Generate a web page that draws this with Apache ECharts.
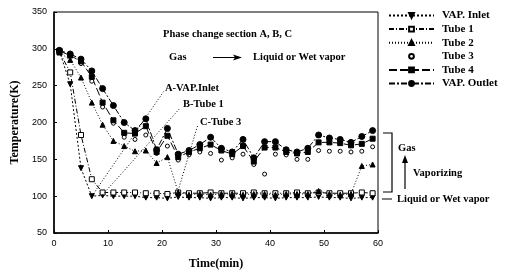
<!DOCTYPE html>
<html>
<head>
<meta charset="utf-8">
<script src="https://cdn.jsdelivr.net/npm/echarts@6/dist/echarts.min.js"></script>
<style>
  html, body { margin: 0; padding: 0; background: #fff; }
  #main { width: 513px; height: 275px; }
</style>
</head>
<body>
<div id="main"></div>
<script>
// time points (min)
const timeMin = [1, 3, 5, 7, 9, 11, 13, 15, 17, 19, 21, 23, 25, 27, 29, 31, 33, 35, 37, 39, 41, 43, 45, 47, 49, 51, 53, 55, 57, 59];

// temperatures (K)
const vapInlet = [297, 252, 138, 100, 101, 100, 100, 100, 98, 98, 97, 99, 98, 98, 97, 98, 98, 97, 98, 98, 97, 98, 98, 98, 99, 98, 98, 97, 98, 98];
const tube1 = [296, 268, 183, 123, 105, 105, 105, 105, 104, 104, 103, 105, 104, 104, 105, 104, 104, 104, 105, 104, 104, 104, 105, 104, 105, 104, 104, 104, 105, 104];
const tube2 = [295, 285, 261, 227, 197, 175, 168, 161, 162, 145, 153, 105, 102, 103, 102, 103, 103, 102, 103, 103, 102, 103, 103, 103, 107, 103, 102, 103, 141, 143];
const tube3 = [296, 290, 280, 256, 221, 199, 180, 177, 183, 158, 168, 149, 156, 160, 158, 149, 152, 157, 143, 130, 157, 156, 150, 150, 162, 161, 161, 160, 161, 167];
const tube4 = [297, 291, 283, 262, 227, 203, 186, 185, 195, 160, 182, 153, 160, 165, 170, 162, 157, 168, 147, 166, 166, 160, 158, 160, 173, 173, 172, 169, 171, 178];
const vapOutlet = [298, 293, 286, 270, 246, 223, 200, 189, 205, 163, 192, 157, 162, 170, 180, 165, 160, 177, 152, 174, 174, 163, 160, 165, 183, 179, 177, 173, 181, 189];

// axis ranges
const yTicks = { min: 50, max: 350, step: 50 };
const xTicks = { min: 0, max: 60, step: 10 };

// leader lines of "A-VAP.Inlet", "B-Tube 1", "C-Tube 3" (data units)
const leaderA = [[7, 100], [20.3, 242]];
const leaderB = [[9, 102], [23.4, 220]];
const leaderC = [[23, 108], [26.6, 196]];

const serif = '"Liberation Serif", "DejaVu Serif", serif';
const sans = '"Liberation Sans", Arial, sans-serif';

function pairs(vals) {
    return timeMin.map((t, i) => [t, vals[i]]);
}

function lineSeries(name, vals, symbol, size, fill, dash, extra) {
    return Object.assign({
        name: name,
        type: 'line',
        data: pairs(vals),
        symbol: symbol,
        symbolSize: size,
        showAllSymbol: true,
        z: 3,
        itemStyle: { color: fill, borderColor: '#000', borderWidth: 1 },
        lineStyle: { color: '#000', width: 1, type: dash },
        emphasis: { disabled: true },
        animation: false
    }, extra || {});
}

const chart = echarts.init(document.getElementById('main'));

const option = {
    animation: false,
    grid: {
        left: 54, right: 135, top: 12, bottom: 38,
        show: true, borderColor: '#000', borderWidth: 1
    },
    legend: {
        orient: 'vertical',
        left: 383,
        top: 5,
        itemWidth: 45,
        itemHeight: 6,
        itemGap: 2.6,
        textStyle: { fontFamily: serif, fontWeight: 'bold', fontSize: 11, color: '#000', padding: [0, 0, 0, 3] },
        data: ['VAP. Inlet', 'Tube 1', 'Tube 2', 'Tube 3', 'Tube 4', 'VAP. Outlet']
    },
    xAxis: {
        type: 'value',
        min: xTicks.min, max: xTicks.max, interval: xTicks.step,
        name: 'Time(min)',
        nameLocation: 'middle',
        nameGap: 25,
        nameTextStyle: { fontFamily: serif, fontWeight: 'bold', fontSize: 12, color: '#000' },
        axisLine: { lineStyle: { color: '#000', width: 1.5 } },
        axisTick: { inside: true, length: 3, lineStyle: { color: '#000' } },
        axisLabel: { fontFamily: sans, fontSize: 9, color: '#000', margin: 6 },
        splitLine: { show: false }
    },
    yAxis: {
        type: 'value',
        min: yTicks.min, max: yTicks.max, interval: yTicks.step,
        name: 'Temperature(K)',
        nameLocation: 'middle',
        nameGap: 28,
        nameTextStyle: { fontFamily: serif, fontWeight: 'bold', fontSize: 12, color: '#000' },
        axisLine: { show: true, lineStyle: { color: '#000', width: 1.5 } },
        axisTick: { show: true, inside: true, length: 3, lineStyle: { color: '#000' } },
        axisLabel: { fontFamily: sans, fontSize: 9, color: '#000', margin: 7 },
        splitLine: { show: false }
    },
    series: [
        lineSeries('VAP. Inlet', vapInlet, 'triangle', 5, '#000', [2, 2], { symbolRotate: 180 }),
        lineSeries('Tube 1', tube1, 'rect', 5, '#fff', [5, 2, 1, 2]),
        lineSeries('Tube 2', tube2, 'triangle', 5, '#000', [1, 2]),
        lineSeries('Tube 3', tube3, 'circle', 4, '#fff', 'solid', { lineStyle: { width: 0, opacity: 0 } }),
        lineSeries('Tube 4', tube4, 'rect', 5, '#000', [8, 3]),
        lineSeries('VAP. Outlet', vapOutlet, 'circle', 6, '#000', [6, 2, 2, 2]),
        {
            name: 'leaders',
            type: 'line',
            data: [],
            silent: true,
            markLine: {
                silent: true,
                symbol: ['none', 'none'],
                label: { show: false },
                lineStyle: { color: '#000', width: 1, type: [1, 2] },
                data: [leaderA, leaderB, leaderC].map(l => [{ coord: l[0] }, { coord: l[1] }])
            }
        }
    ],
    graphic: [
        { type: 'text', left: 163, top: 29, style: { text: 'Phase change section A, B, C', font: 'bold 10.5px ' + serif, fill: '#000' } },
        { type: 'text', left: 169, top: 52, style: { text: 'Gas', font: 'bold 10.5px ' + serif, fill: '#000' } },
        { type: 'line', shape: { x1: 213, y1: 57.5, x2: 238, y2: 57.5 }, style: { stroke: '#000', lineWidth: 1 } },
        { type: 'polygon', shape: { points: [[242, 57.5], [233, 54.5], [235, 57.5], [233, 60.5]] }, style: { fill: '#000' } },
        { type: 'text', left: 253, top: 52, style: { text: 'Liquid or Wet vapor', font: 'bold 10.5px ' + serif, fill: '#000' } },
        { type: 'text', left: 165, top: 83, style: { text: 'A-VAP.Inlet', font: 'bold 10.5px ' + serif, fill: '#000' } },
        { type: 'text', left: 183, top: 99, style: { text: 'B-Tube 1', font: 'bold 10.5px ' + serif, fill: '#000' } },
        { type: 'text', left: 200, top: 117, style: { text: 'C-Tube 3', font: 'bold 10.5px ' + serif, fill: '#000' } },
        // right side bracket and phase notes
        { type: 'polyline', shape: { points: [[383, 133], [392, 133], [392, 192], [383, 192]] }, style: { stroke: '#000', lineWidth: 1.2, fill: null } },
        { type: 'text', left: 398, top: 143, style: { text: 'Gas', font: 'bold 10.5px ' + serif, fill: '#000' } },
        { type: 'line', shape: { x1: 405, y1: 189, x2: 405, y2: 160 }, style: { stroke: '#000', lineWidth: 1.2 } },
        { type: 'polygon', shape: { points: [[405, 155], [402, 163], [408, 163]] }, style: { fill: '#000' } },
        { type: 'text', left: 413, top: 168, style: { text: 'Vaporizing', font: 'bold 10.5px ' + serif, fill: '#000' } },
        { type: 'line', shape: { x1: 382, y1: 199, x2: 392, y2: 199 }, style: { stroke: '#000', lineWidth: 1 } },
        { type: 'text', left: 397, top: 194, style: { text: 'Liquid or Wet vapor', font: 'bold 10.5px ' + serif, fill: '#000' } }
    ]
};

chart.setOption(option);
</script>
</body>
</html>
